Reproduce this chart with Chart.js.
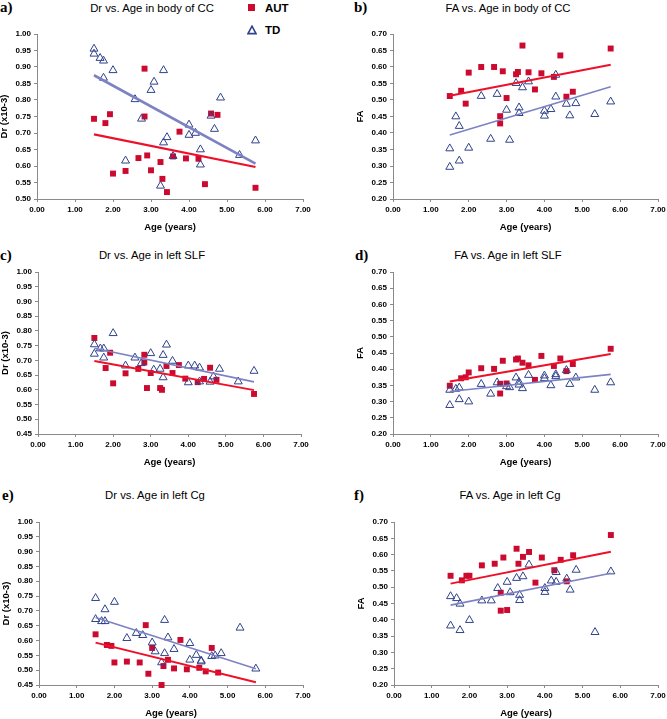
<!DOCTYPE html>
<html>
<head>
<meta charset="utf-8">
<script src="https://cdn.jsdelivr.net/npm/chart.js@4.4.1/dist/chart.umd.min.js"></script>
<style>
  body { margin: 0; background: #fff; width: 667px; height: 719px; position: relative; overflow: hidden;
         font-family: "Liberation Sans", Arial, sans-serif; }
  canvas { position: absolute; }
  .letter { position: absolute; font: bold 15px "Liberation Serif", serif; line-height: 15px; transform: translateY(-50%); }
  .ttl { position: absolute; font-size: 11.3px; white-space: nowrap; transform: translate(-50%, -50%); }
  .leg { position: absolute; font-weight: bold; font-size: 11.5px; transform: translateY(-50%); }
</style>
</head>
<body>

<div class="letter" style="left:0px;top:7px">a)</div>
<div class="letter" style="left:354px;top:7px">b)</div>
<div class="letter" style="left:0px;top:255px">c)</div>
<div class="letter" style="left:355px;top:255px">d)</div>
<div class="letter" style="left:2px;top:495px">e)</div>
<div class="letter" style="left:354px;top:495px">f)</div>

<div class="ttl" style="left:152px;top:8px">Dr vs. Age in body of CC</div>
<div class="ttl" style="left:508px;top:8px">FA vs. Age in body of CC</div>
<div class="ttl" style="left:152px;top:255px">Dr vs. Age in left SLF</div>
<div class="ttl" style="left:508px;top:255px">FA vs. Age in left SLF</div>
<div class="ttl" style="left:155px;top:495px">Dr vs. Age in left Cg</div>
<div class="ttl" style="left:510px;top:495px">FA vs. Age in left Cg</div>

<!-- legend (panel a) -->
<div style="position:absolute;left:248px;top:4px;width:7px;height:7px;background:#cc0a30"></div>
<div class="leg" style="left:265px;top:8px">AUT</div>
<svg style="position:absolute;left:247px;top:25px" width="10" height="10">
  <polygon points="5,1.2 9,8.6 1,8.6" fill="none" stroke="#2f428c" stroke-width="1.6"/>
</svg>
<div class="leg" style="left:265px;top:30px">TD</div>

<canvas id="pa"></canvas>
<canvas id="pb"></canvas>
<canvas id="pc"></canvas>
<canvas id="pd"></canvas>
<canvas id="pe"></canvas>
<canvas id="pf"></canvas>

<script>
// ages (years), same subjects in every panel
const tdAge  = [1.50, 1.50, 1.66, 1.75, 1.75, 2.00, 2.33, 2.58, 2.75, 3.00, 3.08, 3.25, 3.33, 3.33, 3.42, 3.58, 4.00, 4.00, 4.17, 4.30, 4.30, 4.58, 4.67, 4.83, 5.33, 5.75];
const autAge = [1.50, 1.80, 1.92, 2.00, 2.33, 2.67, 2.83, 2.83, 2.90, 3.00, 3.25, 3.30, 3.42, 3.58, 3.75, 3.92, 4.25, 4.42, 4.58, 4.75, 5.75];

// a) Dr, body of CC
const drCC_td  = [0.955, 0.940, 0.927, 0.919, 0.867, 0.890, 0.616, 0.802, 0.743, 0.830, 0.855, 0.540, 0.890, 0.671, 0.687, 0.630, 0.725, 0.694, 0.700, 0.650, 0.604, 0.752, 0.712, 0.807, 0.633, 0.677];
const drCC_aut = [0.743, 0.730, 0.757, 0.577, 0.585, 0.624, 0.895, 0.750, 0.632, 0.587, 0.612, 0.561, 0.521, 0.629, 0.704, 0.623, 0.622, 0.545, 0.759, 0.755, 0.534];
// b) FA, body of CC
const faCC_td  = [0.353, 0.297, 0.450, 0.421, 0.316, 0.355, 0.512, 0.382, 0.518, 0.470, 0.379, 0.551, 0.477, 0.460, 0.538, 0.556, 0.452, 0.467, 0.472, 0.576, 0.510, 0.488, 0.453, 0.490, 0.457, 0.495];
const faCC_aut = [0.512, 0.528, 0.489, 0.583, 0.600, 0.600, 0.429, 0.451, 0.587, 0.506, 0.578, 0.585, 0.665, 0.584, 0.532, 0.581, 0.570, 0.635, 0.510, 0.525, 0.656];
// c) Dr, left SLF
const drSLF_td  = [0.754, 0.722, 0.740, 0.740, 0.709, 0.792, 0.682, 0.709, 0.690, 0.724, 0.668, 0.671, 0.718, 0.642, 0.753, 0.698, 0.682, 0.625, 0.682, 0.675, 0.628, 0.627, 0.645, 0.671, 0.628, 0.664];
const drSLF_aut = [0.776, 0.674, 0.726, 0.622, 0.656, 0.671, 0.719, 0.693, 0.606, 0.657, 0.606, 0.600, 0.681, 0.657, 0.684, 0.638, 0.626, 0.637, 0.675, 0.634, 0.586];
// d) FA, left SLF
const faSLF_td  = [0.336, 0.289, 0.339, 0.343, 0.307, 0.300, 0.354, 0.324, 0.359, 0.347, 0.344, 0.374, 0.360, 0.352, 0.341, 0.382, 0.380, 0.372, 0.350, 0.384, 0.378, 0.397, 0.354, 0.374, 0.336, 0.359];
const faSLF_aut = [0.349, 0.372, 0.375, 0.390, 0.403, 0.401, 0.355, 0.325, 0.426, 0.356, 0.430, 0.433, 0.420, 0.412, 0.367, 0.441, 0.410, 0.433, 0.394, 0.416, 0.463];
// e) Dr, left Cg (two AUT values fall outside the axis)
const drCg_td  = [0.743, 0.672, 0.665, 0.705, 0.665, 0.730, 0.608, 0.625, 0.618, 0.593, 0.563, 0.526, 0.669, 0.557, 0.610, 0.571, 0.535, 0.591, 0.551, 0.532, 0.529, 0.547, 0.549, 0.557, 0.643, 0.505];
const drCg_aut = [0.621, 0.585, 0.582, 0.526, 0.529, 0.526, 0.652, null, 0.488, 0.575, 0.450, 0.514, 0.535, 0.506, 0.602, 0.503, 0.508, 0.496, 0.575, 0.492, null];
// f) FA, left Cg
const faCg_td  = [0.472, 0.382, 0.466, 0.449, 0.368, 0.399, 0.459, 0.459, 0.497, 0.516, 0.484, 0.528, 0.476, 0.460, 0.533, 0.569, 0.497, 0.485, 0.520, 0.546, 0.516, 0.526, 0.492, 0.553, 0.362, 0.548];
const faCg_aut = [0.535, 0.521, 0.535, 0.535, 0.567, 0.572, 0.483, 0.428, 0.591, 0.430, 0.618, 0.572, 0.593, 0.608, 0.514, 0.591, 0.552, 0.584, 0.518, 0.598, 0.660];

// trend lines, value at age 1.5 and at 5.75
const fitAge = [1.5, 5.75];
const drCC_autFit  = [0.696, 0.597], drCC_tdFit  = [0.875, 0.607];
const faCC_autFit  = [0.513, 0.607], faCC_tdFit  = [0.394, 0.540];
const drSLF_autFit = [0.698, 0.599], drSLF_tdFit = [0.741, 0.627];
const faSLF_autFit = [0.362, 0.447], faSLF_tdFit = [0.331, 0.384];
const drCg_autFit  = [0.593, 0.459], drCg_tdFit  = [0.678, 0.505];
const faCg_autFit  = [0.511, 0.609], faCg_tdFit  = [0.445, 0.543];

const xTicks = [0, 1, 2, 3, 4, 5, 6, 7];

const AUT_COL = '#cc0a30';
const TD_COL = '#2f428c';
const AUT_LINE = '#ee1028';
const TD_LINE = '#7d82c2';
const AXIS_COL = '#8a8a8a';

const pts = (xs, ys) => xs.map((x, i) => ({ x: x, y: ys[i] }));

function panel(id, area, yTitle, yMin, yMax, autY, tdY, autFit, tdFit, lw) {
  const cv = document.getElementById(id);
  const left = area.l - 40, top = area.t - 10;
  cv.width = area.r + 14 - left;
  cv.height = area.b + 36 - top;
  cv.style.left = left + 'px';
  cv.style.top = top + 'px';

  const tickFont = { family: 'Liberation Sans', size: 8, weight: 'bold' };
  const titleFont = { family: 'Liberation Sans', size: 9.5, weight: 'bold' };

  return new Chart(cv.getContext('2d'), {
    type: 'scatter',
    data: {
      datasets: [
        { type: 'line', data: pts(fitAge, autFit), borderColor: AUT_LINE, borderWidth: lw[0],
          pointRadius: 0, fill: false, order: 0 },
        { type: 'line', data: pts(fitAge, tdFit), borderColor: TD_LINE, borderWidth: lw[1],
          pointRadius: 0, fill: false, order: 0 },
        { label: 'TD', data: pts(tdAge, tdY), pointStyle: 'triangle', pointRadius: 4.6,
          borderColor: TD_COL, borderWidth: 1, backgroundColor: 'rgba(0,0,0,0)', order: 1, clip: false },
        { label: 'AUT', data: pts(autAge, autY), pointStyle: 'rect', pointRadius: 4.2,
          backgroundColor: AUT_COL, borderWidth: 0, order: 2, clip: false }
      ]
    },
    options: {
      responsive: false,
      animation: false,
      devicePixelRatio: 1,
      layout: { autoPadding: false, padding: { left: 2, top: 10, right: 14, bottom: 2 } },
      plugins: { legend: { display: false }, tooltip: { enabled: false } },
      scales: {
        x: {
          type: 'linear', min: 0, max: 7,
          afterFit: s => { s.height = 34; },
          afterBuildTicks: s => { s.ticks = xTicks.map(v => ({ value: v })); },
          grid: { display: true, drawOnChartArea: false, drawTicks: true, tickLength: 3, color: AXIS_COL },
          border: { color: AXIS_COL, width: 1 },
          ticks: { color: '#000', font: tickFont, padding: 3, maxRotation: 0,
                   callback: v => v.toFixed(2) },
          title: { display: true, text: 'Age (years)', color: '#000', font: titleFont, padding: 0 }
        },
        y: {
          type: 'linear', min: yMin, max: yMax,
          afterFit: s => { s.width = 38; },
          grid: { display: true, drawOnChartArea: false, drawTicks: true, tickLength: 3, color: AXIS_COL },
          border: { color: AXIS_COL, width: 1 },
          ticks: { color: '#000', font: tickFont, padding: 3, stepSize: 0.05, autoSkip: false,
                   callback: v => v.toFixed(2) },
          title: { display: true, text: yTitle, color: '#000', font: titleFont, padding: 0 }
        }
      }
    }
  });
}

panel('pa', { l: 37, r: 303, t: 34, b: 199 },  'Dr (x10-3)', 0.50, 1.00, drCC_aut, drCC_td, drCC_autFit, drCC_tdFit, [2.2, 2.6]);
panel('pb', { l: 393, r: 658, t: 34, b: 199 }, 'FA', 0.20, 0.70, faCC_aut, faCC_td, faCC_autFit, faCC_tdFit, [2, 1.6]);
panel('pc', { l: 38, r: 301, t: 272, b: 434 }, 'Dr (x10-3)', 0.45, 1.00, drSLF_aut, drSLF_td, drSLF_autFit, drSLF_tdFit, [2, 1.6]);
panel('pd', { l: 393, r: 658, t: 272, b: 434 }, 'FA', 0.20, 0.70, faSLF_aut, faSLF_td, faSLF_autFit, faSLF_tdFit, [2, 1.6]);
panel('pe', { l: 39, r: 303, t: 522, b: 685 }, 'Dr (x10-3)', 0.45, 1.00, drCg_aut, drCg_td, drCg_autFit, drCg_tdFit, [2, 1.6]);
panel('pf', { l: 394, r: 658, t: 522, b: 685 }, 'FA', 0.20, 0.70, faCg_aut, faCg_td, faCg_autFit, faCg_tdFit, [2, 1.6]);
</script>
</body>
</html>
